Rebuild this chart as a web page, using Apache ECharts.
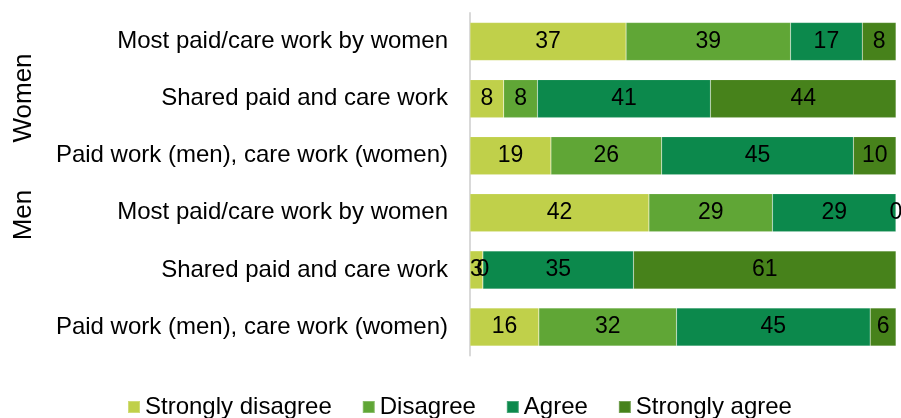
<!DOCTYPE html>
<html>
<head>
<meta charset="utf-8">
<script src="https://cdn.jsdelivr.net/npm/echarts@6/dist/echarts.min.js"></script>
<style>html,body{margin:0;padding:0;background:#fff;}#c{width:901px;height:418px;}</style>
</head>
<body>
<div id="c"></div>
<script>
const categories = [
  'Most paid/care work by women',
  'Shared paid and care work',
  'Paid work (men), care work (women)',
  'Most paid/care work by women',
  'Shared paid and care work',
  'Paid work (men), care work (women)'
];
const groups = ['Women', 'Men'];
const seriesNames = ['Strongly disagree', 'Disagree', 'Agree', 'Strongly agree'];
const stronglyDisagree = [37, 8, 19, 42, 3, 16];
const disagree = [39, 8, 26, 29, 0, 32];
const agree = [17, 41, 45, 29, 35, 45];
const stronglyAgree = [8, 44, 10, 0, 61, 6];
const colors = ['#C0D04A', '#60A636', '#0C894C', '#47821B'];

const raw = [stronglyDisagree, disagree, agree, stronglyAgree];
const totals = categories.map((_, i) => raw.reduce((s, a) => s + a[i], 0));

const font = 'Liberation Sans, Arial, sans-serif';
const chart = echarts.init(document.getElementById('c'), null, {renderer: 'canvas'});
chart.setOption({
  animation: false,
  textStyle: {fontFamily: font},
  grid: {left: 470, right: 5, top: 13, bottom: 62.5, containLabel: false},
  xAxis: {type: 'value', min: 0, max: 100, show: false},
  yAxis: {
    type: 'category', data: categories.map((c, i) => i), inverse: true,
    axisLine: {show: true, lineStyle: {color: '#d9d9d9', width: 2}},
    axisTick: {show: false},
    axisLabel: {
      formatter: v => categories[+v], color: '#000', fontSize: 24, fontFamily: font, margin: 22
    }
  },
  legend: {
    left: 127, top: 395, padding: 0, itemWidth: 12, itemHeight: 12, itemGap: 30, icon: 'rect',
    textStyle: {fontSize: 24, color: '#000', fontFamily: font},
    data: seriesNames
  },
  graphic: [
    {type: 'text', x: 24, y: 98, rotation: Math.PI / 2, style: {text: groups[0], fontSize: 26, fontFamily: font, fill: '#000', align: 'center', verticalAlign: 'middle'}},
    {type: 'text', x: 24, y: 215, rotation: Math.PI / 2, style: {text: groups[1], fontSize: 26, fontFamily: font, fill: '#000', align: 'center', verticalAlign: 'middle'}}
  ],
  series: raw.map((arr, k) => ({
    name: seriesNames[k], type: 'bar', stack: 'total', barWidth: 38,
    itemStyle: {color: colors[k], borderColor: 'rgba(255,255,255,0.25)', borderWidth: 0.5},
    label: {
      show: true, position: 'inside', color: '#000', fontSize: 23, fontFamily: font,
      formatter: p => String(arr[p.dataIndex])
    },
    data: arr.map((v, i) => v / totals[i] * 100)
  }))
});
</script>
</body>
</html>
